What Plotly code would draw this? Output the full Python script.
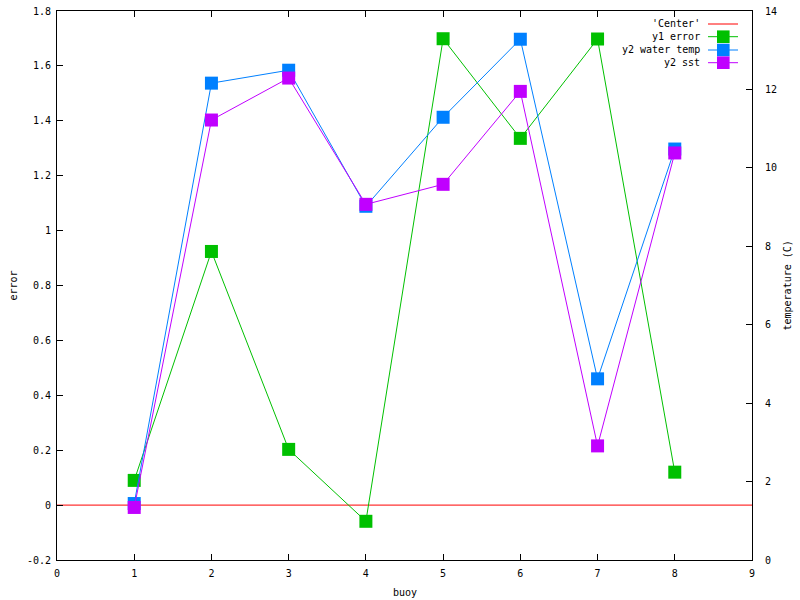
import plotly.graph_objects as go

buoy = [1, 2, 3, 4, 5, 6, 7, 8]
y1_error = [0.090, 0.924, 0.203, -0.059, 1.699, 1.336, 1.698, 0.120]
y2_water_temp = [1.44, 12.16, 12.49, 9.02, 11.29, 13.28, 4.62, 10.48]
y2_sst = [1.34, 11.22, 12.29, 9.07, 9.58, 11.95, 2.91, 10.38]
center_x = [0, 9]
center_y = [0, 0]

x_ticks = [0, 1, 2, 3, 4, 5, 6, 7, 8, 9]
y1_ticks = [-0.2, 0, 0.2, 0.4, 0.6, 0.8, 1, 1.2, 1.4, 1.6, 1.8]
y1_labels = ["-0.2", "0", "0.2", "0.4", "0.6", "0.8", "1", "1.2", "1.4", "1.6", "1.8"]
y2_ticks = [0, 2, 4, 6, 8, 10, 12, 14]

legend_names = ["'Center'", "y1 error", "y2 water temp", "y2 sst"]
colors = ["#ff0000", "#00c000", "#0080ff", "#c000ff"]
has_marker = [False, True, True, True]

FONT = "DejaVu Sans Mono"

fig = go.Figure()
fig.add_trace(go.Scatter(x=center_x, y=center_y, mode="lines",
                         line=dict(color=colors[0], width=1), showlegend=False))
fig.add_trace(go.Scatter(x=buoy, y=y1_error, mode="lines+markers",
                         line=dict(color=colors[1], width=1),
                         marker=dict(symbol="square", size=13, color=colors[1], line=dict(width=0)),
                         showlegend=False))
fig.add_trace(go.Scatter(x=buoy, y=y2_water_temp, mode="lines+markers", yaxis="y2",
                         line=dict(color=colors[2], width=1),
                         marker=dict(symbol="square", size=13, color=colors[2], line=dict(width=0)),
                         showlegend=False))
fig.add_trace(go.Scatter(x=buoy, y=y2_sst, mode="lines+markers", yaxis="y2",
                         line=dict(color=colors[3], width=1),
                         marker=dict(symbol="square", size=13, color=colors[3], line=dict(width=0)),
                         showlegend=False))

W, H = 800, 600
L, R, T, B = 57, 48, 11, 40
pw, ph = W - L - R, H - T - B

def px_to_paper_x(px):
    return (px - L) / pw

def px_to_paper_y(py):
    return (H - B - py) / ph

shapes = []
annotations = []
row_y = [24, 36.7, 50, 62.7]
for name, col, mk, ry in zip(legend_names, colors, has_marker, row_y):
    yy = px_to_paper_y(ry)
    annotations.append(dict(x=px_to_paper_x(702), y=yy, xref="paper", yref="paper",
                            text=name, showarrow=False, xanchor="right", yanchor="middle",
                            font=dict(family=FONT, size=10, color="black")))
    shapes.append(dict(type="line", xref="paper", yref="paper",
                       x0=px_to_paper_x(708), x1=px_to_paper_x(738), y0=yy, y1=yy,
                       line=dict(color=col, width=1)))
    if mk:
        shapes.append(dict(type="rect", xref="paper", yref="paper",
                           x0=px_to_paper_x(723.3 - 6.3), x1=px_to_paper_x(723.3 + 6.3),
                           y0=yy - 6.3 / ph, y1=yy + 6.3 / ph,
                           fillcolor=col, line=dict(width=0)))

annotations.append(dict(x=0.5, y=px_to_paper_y(592), xref="paper", yref="paper",
                        text="buoy", showarrow=False, xanchor="center", yanchor="middle",
                        font=dict(family=FONT, size=10, color="black")))
annotations.append(dict(x=px_to_paper_x(13), y=0.5, xref="paper", yref="paper",
                        text="error", showarrow=False, textangle=-90,
                        xanchor="center", yanchor="middle",
                        font=dict(family=FONT, size=10, color="black")))
annotations.append(dict(x=px_to_paper_x(787), y=0.5, xref="paper", yref="paper",
                        text="temperature (C)", showarrow=False, textangle=-90,
                        xanchor="center", yanchor="middle",
                        font=dict(family=FONT, size=10, color="black")))

fig.update_layout(
    width=W, height=H,
    margin=dict(l=L, r=R, t=T, b=B, autoexpand=False),
    paper_bgcolor="white", plot_bgcolor="white",
    showlegend=False,
    hovermode=False,
    font=dict(family=FONT, size=10, color="black"),
    xaxis=dict(range=[0, 9], tickvals=x_ticks, ticks="inside", ticklen=6,
               tickcolor="black", showline=True, linecolor="black", linewidth=1,
               mirror="ticks", showgrid=False, zeroline=False,
               tickfont=dict(family=FONT, size=10), ticklabelstandoff=4),
    yaxis=dict(range=[-0.2, 1.8], tickvals=y1_ticks, ticktext=y1_labels,
               ticks="inside", ticklen=6, tickcolor="black",
               showline=True, linecolor="black", linewidth=1,
               showgrid=False, zeroline=False,
               tickfont=dict(family=FONT, size=10), ticklabelstandoff=3),
    yaxis2=dict(range=[0, 14], tickvals=y2_ticks, overlaying="y", side="right",
                ticks="inside", ticklen=6, tickcolor="black",
                showline=True, linecolor="black", linewidth=1,
                showgrid=False, zeroline=False,
                tickfont=dict(family=FONT, size=10), ticklabelstandoff=10),
    shapes=shapes,
    annotations=annotations,
)

fig.write_html("out.html",
               config={"displayModeBar": False},
               post_script="document.body.style.margin='0';document.body.style.overflow='hidden';")
